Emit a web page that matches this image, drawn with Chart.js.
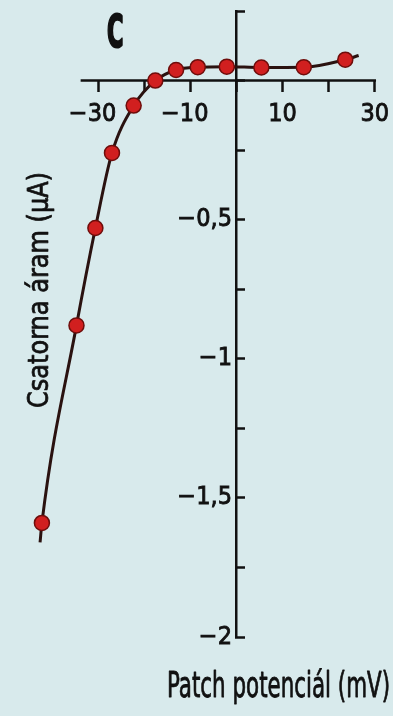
<!DOCTYPE html>
<html>
<head>
<meta charset="utf-8">
<script src="https://cdn.jsdelivr.net/npm/chart.js@4/dist/chart.umd.min.js"></script>
<style>
  html, body { margin: 0; padding: 0; background: #d8eaec; }
  #wrap { position: relative; width: 393px; height: 716px; }
</style>
</head>
<body>
<div id="wrap"><canvas id="iv" width="393" height="716"></canvas></div>
<script>
// Channel current (µA) measured at each patch potential (mV)
const potentialMv = [-42.2, -34.7, -30.6, -27.0, -22.3, -17.6, -13.1, -8.4, -2.1, 5.4, 14.6, 23.6];
const currentUa   = [-1.59, -0.88, -0.53, -0.26, -0.09, 0.0, 0.038, 0.048, 0.05, 0.047, 0.048, 0.075];

// Where the drawn fit curve starts and stops beyond the outer measurements
const fitEndsMv = [-42.6, 26.5];
const fitEndsUa = [-1.66, 0.09];

// Axis ticks and their printed labels
const xTickValues = [-30, -20, -10, 0, 10, 20, 30];
const xTickLabels = ['\u221230\u2002', '', '\u221210\u2002', '', '10', '', '30'];
const yTickValues = [0.25, 0, -0.25, -0.5, -0.75, -1, -1.25, -1.5, -1.75, -2];
const yTickLabels = ['', '', '', '\u22120,5\u2009', '', '\u22121\u2009', '', '\u22121,5\u2009', '', '\u22122\u2009'];

// Visible x-axis line runs from here to the last tick
const xAxisStartMv = -33.8;

const panelLetter = 'C';
const yTitle = 'Csatorna áram (µA)';
const xTitle = 'Patch potenciál (mV)';

const ink = '#111111';
const narrow = "'Liberation Sans Narrow', 'DejaVu Sans Condensed', 'Liberation Sans', sans-serif";

const markerData = potentialMv.map((x, i) => ({ x, y: currentUa[i] }));
const curveData = [{ x: fitEndsMv[0], y: fitEndsUa[0] }, ...markerData, { x: fitEndsMv[1], y: fitEndsUa[1] }];

function labelFor(values, labels, v) {
  const i = values.findIndex(t => Math.abs(t - v) < 1e-9);
  return i < 0 ? '' : labels[i];
}

const paper = {
  id: 'paper',
  beforeDraw(chart) {
    const c = chart.ctx;
    c.save();
    c.fillStyle = '#d8eaec';
    c.fillRect(0, 0, chart.width, chart.height);
    c.restore();
  }
};

const xAxisLine = {
  id: 'xAxisLine',
  beforeDatasetsDraw(chart) {
    const { x, y } = chart.scales;
    const c = chart.ctx;
    const py = y.getPixelForValue(0);
    c.save();
    c.strokeStyle = ink;
    c.lineWidth = 2.5;
    c.beginPath();
    c.moveTo(x.getPixelForValue(xAxisStartMv), py);
    c.lineTo(x.getPixelForValue(30) + 1.25, py);
    c.stroke();
    c.restore();
  }
};

// Condensed lettering: text is set at a given size and squeezed to a given run length
function fittedText(c, text, font, length, weight) {
  c.font = font;
  const w = c.measureText(text).width;
  c.scale(length / w, 1);
  c.textAlign = 'left';
  c.textBaseline = 'alphabetic';
  c.fillText(text, 0, 0);
  if (weight) {
    c.lineWidth = weight;
    c.lineJoin = 'round';
    c.strokeText(text, 0, 0);
  }
}

const lettering = {
  id: 'lettering',
  afterDraw(chart) {
    const c = chart.ctx;
    c.fillStyle = ink;
    c.strokeStyle = ink;

    c.save();
    c.translate(107, 47);
    fittedText(c, panelLetter, 'bold 44px ' + narrow, 16.5, 2.2);
    c.restore();

    c.save();
    c.translate(48, 408);
    c.rotate(-Math.PI / 2);
    fittedText(c, yTitle, '28px ' + narrow, 236, 0.7);
    c.restore();

    c.save();
    c.translate(167, 697);
    fittedText(c, xTitle, '35px ' + narrow, 223, 0.8);
    c.restore();
  }
};

new Chart(document.getElementById('iv'), {
  type: 'line',
  data: {
    datasets: [
      {
        data: markerData,
        showLine: false,
        pointRadius: 7.5,
        pointBackgroundColor: '#d11f1f',
        pointBorderColor: '#6e0d0b',
        pointBorderWidth: 1.5,
        clip: false,
        order: 0
      },
      {
        data: curveData,
        borderColor: '#2a1210',
        borderWidth: 3,
        pointRadius: 0,
        cubicInterpolationMode: 'monotone',
        clip: false,
        order: 1
      }
    ]
  },
  options: {
    responsive: false,
    animation: false,
    devicePixelRatio: 1,
    layout: { padding: { left: 29, right: 5, top: 11, bottom: 79 } },
    plugins: { legend: { display: false }, tooltip: { enabled: false } },
    scales: {
      x: {
        type: 'linear',
        min: -45,
        max: 32,
        position: { y: 0 },
        border: { display: false },
        grid: { drawOnChartArea: false, drawTicks: true, tickLength: 11, tickWidth: 2.5, tickColor: ink },
        afterBuildTicks(scale) { scale.ticks = xTickValues.map(v => ({ value: v })); },
        afterFit(scale) { scale.paddingLeft = 0; scale.paddingRight = 0; },
        ticks: {
          font: { family: narrow, size: 25 },
          color: ink,
          textStrokeColor: ink,
          textStrokeWidth: 0.8,
          padding: 8,
          maxRotation: 0,
          autoSkip: false,
          callback: v => labelFor(xTickValues, xTickLabels, v)
        }
      },
      y: {
        type: 'linear',
        min: -2,
        max: 0.25,
        position: { x: 0 },
        border: { display: true, color: ink, width: 2.5 },
        grid: { drawOnChartArea: false, drawTicks: true, tickLength: -10, tickWidth: 2.5, tickColor: ink },
        afterBuildTicks(scale) { scale.ticks = yTickValues.map(v => ({ value: v })); },
        afterFit(scale) { scale.paddingTop = 0; scale.paddingBottom = 0; },
        ticks: {
          font: { family: narrow, size: 25 },
          color: ink,
          textStrokeColor: ink,
          textStrokeWidth: 0.8,
          padding: 15,
          autoSkip: false,
          callback: v => labelFor(yTickValues, yTickLabels, v)
        }
      }
    }
  },
  plugins: [paper, xAxisLine, lettering]
});
</script>
</body>
</html>
